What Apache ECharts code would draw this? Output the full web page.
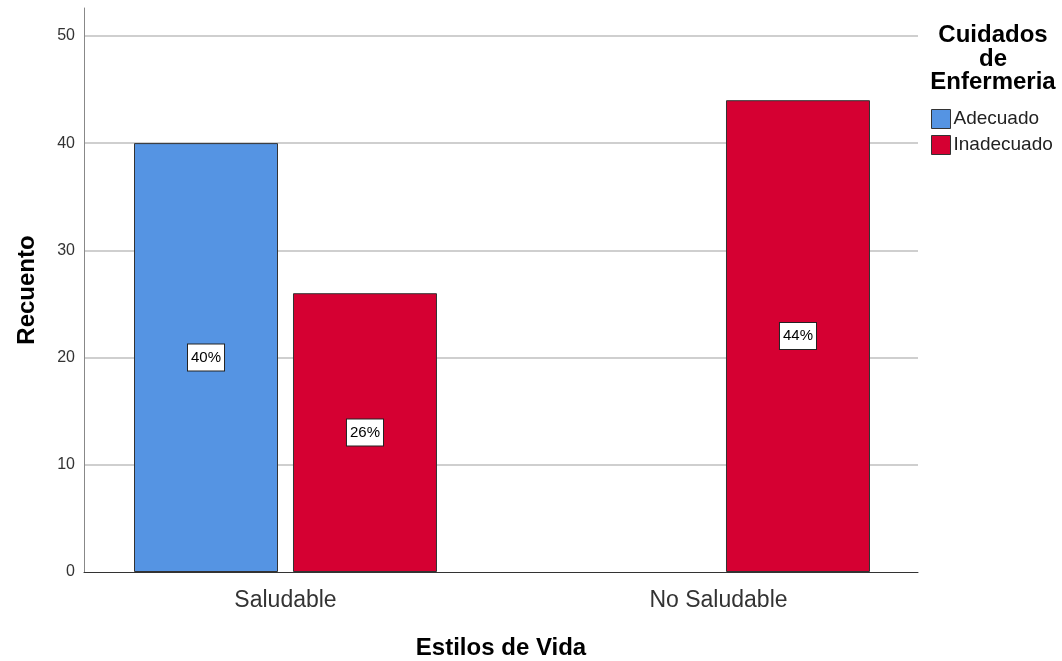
<!DOCTYPE html>
<html>
<head>
<meta charset="utf-8">
<script src="https://cdn.jsdelivr.net/npm/echarts@6/dist/echarts.min.js"></script>
<style>
  html, body { margin: 0; padding: 0; background: #fff; }
  #chart { width: 1062px; height: 661px; }
</style>
</head>
<body>
<div id="chart"></div>
<script>
const categories = ["Saludable", "No Saludable"];
const adecuado = [40, null];
const inadecuado = [26, 44];
const adecuadoLabels = ["40%", ""];
const inadecuadoLabels = ["26%", "44%"];
const yTicks = [0, 10, 20, 30, 40, 50];

const FONT = "Liberation Sans, Arial, sans-serif";
const Y_MAX = 52.6;

const chart = echarts.init(document.getElementById("chart"));

// value label box, like SPSS
function boxLabel(texts) {
  return {
    show: true,
    position: "inside",
    formatter: (p) => texts[p.dataIndex],
    color: "#000",
    fontFamily: FONT,
    fontSize: 15,
    backgroundColor: "#fff",
    borderColor: "#222",
    borderWidth: 1,
    padding: [6, 3, 5, 3],
  };
}

const option = {
  animation: false,
  textStyle: { fontFamily: FONT },
  title: {
    text: "Cuidados\nde\nEnfermeria",
    left: 993,
    top: 24,
    padding: 0,
    textAlign: "center",
    textStyle: { fontSize: 24, fontWeight: "bold", color: "#000", lineHeight: 23.5, fontFamily: FONT },
  },
  legend: {
    orient: "vertical",
    left: 931,
    top: 109,
    padding: 0,
    itemWidth: 19,
    itemHeight: 19,
    itemGap: 6,
    icon: "rect",
    textStyle: { fontSize: 19, color: "#222", padding: [0, 0, 0, -2] },
    itemStyle: { borderColor: "#333", borderWidth: 1 },
    data: ["Adecuado", "Inadecuado"],
  },
  grid: [
    { left: 84, right: 144, top: 8, bottom: 89, outerBoundsMode: "none" },
    { left: 69, right: 127, top: 8, bottom: 89, outerBoundsMode: "none" },
  ],
  xAxis: [
    {
      gridIndex: 0,
      type: "category",
      data: categories,
      axisLine: { lineStyle: { color: "#333", width: 1 } },
      axisTick: { show: false },
      axisLabel: { show: false },
      name: "Estilos de Vida",
      nameLocation: "middle",
      nameGap: 64,
      nameTextStyle: { fontSize: 24, fontWeight: "bold", color: "#000" },
    },
    {
      gridIndex: 1,
      type: "category",
      data: categories,
      axisLine: { show: false },
      axisTick: { show: false },
      axisLabel: { fontSize: 23, color: "#333", margin: 17 },
    },
  ],
  yAxis: [
    {
      gridIndex: 0,
      type: "value",
      min: 0,
      max: Y_MAX,
      interval: 10,
      axisLine: { show: true, lineStyle: { color: "#888", width: 1 } },
      axisTick: { show: false },
      axisLabel: {
        fontSize: 16,
        color: "#333",
        margin: 9,
        showMaxLabel: false,
        formatter: (v) => (yTicks.includes(v) ? String(v) : ""),
      },
      splitLine: { show: true, showMaxLine: false, showMinLine: false, lineStyle: { color: "#cfcfcf", width: 2 } },
      name: "Recuento",
      nameLocation: "middle",
      nameGap: 45,
      nameTextStyle: { fontSize: 24, fontWeight: "bold", color: "#000" },
    },
    {
      gridIndex: 1,
      type: "value",
      min: 0,
      max: Y_MAX,
      interval: 10,
      show: false,
      splitLine: { show: false },
    },
  ],
  series: [
    {
      name: "Adecuado",
      type: "bar",
      xAxisIndex: 1,
      yAxisIndex: 1,
      data: adecuado,
      barWidth: 144,
      barGap: "10.4%",
      itemStyle: { color: "#5594e3", borderColor: "#333", borderWidth: 1 },
      label: boxLabel(adecuadoLabels),
    },
    {
      name: "Inadecuado",
      type: "bar",
      xAxisIndex: 1,
      yAxisIndex: 1,
      data: inadecuado,
      barWidth: 144,
      barGap: "10.4%",
      itemStyle: { color: "#d50032", borderColor: "#333", borderWidth: 1 },
      label: boxLabel(inadecuadoLabels),
    },
  ],
};

chart.setOption(option);
</script>
</body>
</html>
